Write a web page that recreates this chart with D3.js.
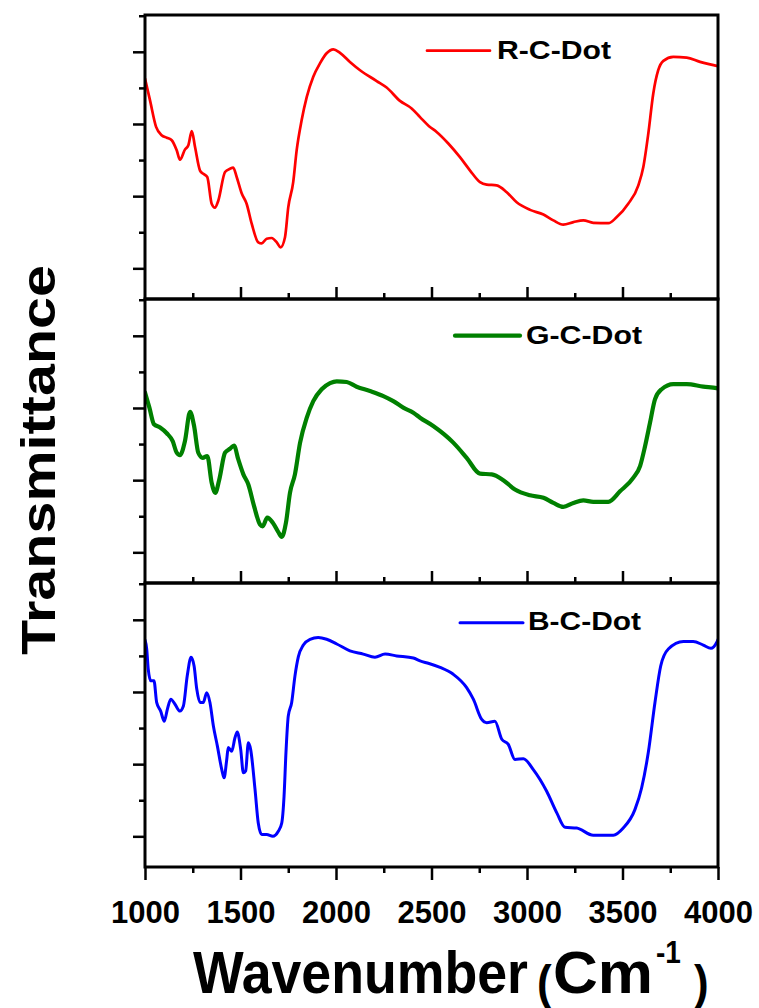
<!DOCTYPE html>
<html>
<head>
<meta charset="utf-8">
<script src="https://cdn.jsdelivr.net/npm/d3@7"></script>
<style>
  body { margin: 0; background: #fff; }
  svg { display: block; }
  text { font-family: "Liberation Sans", Arial, Helvetica, sans-serif; font-weight: bold; fill: #000; }
</style>
</head>
<body>
<svg id="chart" width="759" height="1008"></svg>
<script>
// FTIR spectra of the three carbon-dot samples: [wavenumber (cm^-1), transmittance (a.u.)]
const redSpectrum = [
  [1000,52.6],[1026,46.6],[1058,39.2],[1087,36.9],[1114,36.2],[1140,35.5],[1166,32.7],[1183,30.1],
  [1209,32.9],[1227,34.1],[1245,38.0],[1262,33.6],[1288,27.1],[1305,26.2],[1326,25.3],[1349,17.9],
  [1366,16.8],[1384,18.8],[1419,26.7],[1445,27.6],[1462,27.9],[1480,25.3],[1506,20.8],[1532,17.9],
  [1559,12.3],[1593,7.2],[1611,6.9],[1637,8.2],[1663,8.4],[1690,7.2],[1710,5.8],[1733,8.6],
  [1750,16.9],[1776,23.9],[1794,32.7],[1820,41.0],[1847,47.5],[1881,53.1],[1916,56.8],[1951,59.6],
  [1986,60.7],[2021,59.7],[2073,57.2],[2126,54.9],[2213,51.9],[2265,50.1],[2335,46.4],[2396,44.3],
  [2440,41.9],[2487,39.4],[2527,37.8],[2588,34.6],[2649,30.8],[2702,27.1],[2754,23.9],[2789,23.2],
  [2841,23.0],[2894,21.1],[2946,18.3],[3016,16.2],[3086,14.9],[3138,13.3],[3190,12.1],[3243,12.8],
  [3295,13.3],[3347,12.6],[3426,12.5],[3470,14.2],[3530,17.9],[3583,23.0],[3609,28.1],[3635,37.3],
  [3661,48.4],[3687,54.9],[3714,57.5],[3766,58.6],[3836,58.4],[3906,57.2],[3993,56.1],[4000,56.0]
];

const greenSpectrum = [
  [1000,44.3],[1023,40.1],[1047,35.5],[1079,34.6],[1114,33.0],[1145,30.8],[1166,27.6],[1183,26.9],
  [1209,30.8],[1236,38.9],[1257,35.0],[1279,27.6],[1302,26.2],[1326,26.7],[1349,19.3],[1368,16.5],
  [1389,20.2],[1419,27.6],[1445,28.7],[1466,29.6],[1488,25.8],[1515,21.6],[1541,18.8],[1571,12.8],
  [1602,7.7],[1616,7.2],[1640,9.6],[1669,8.2],[1698,5.6],[1716,4.3],[1738,8.2],[1759,16.5],
  [1785,21.6],[1812,30.4],[1847,37.3],[1881,41.9],[1925,45.2],[1969,46.9],[2004,47.4],[2056,47.2],
  [2108,45.9],[2178,44.7],[2248,43.3],[2300,41.9],[2352,40.1],[2405,38.7],[2440,37.3],[2509,35.0],
  [2614,30.4],[2684,26.2],[2754,21.8],[2815,21.6],[2876,20.0],[2937,17.4],[3016,15.8],[3086,15.1],
  [3138,13.7],[3190,12.6],[3243,13.7],[3295,14.4],[3347,14.0],[3426,14.0],[3487,16.9],[3557,20.7],
  [3592,23.9],[3618,29.4],[3644,35.9],[3670,42.4],[3705,45.2],[3766,46.6],[3836,46.6],[3923,45.9],
  [3993,45.5],[4000,45.4]
];

const blueSpectrum = [
  [1000,54.4],[1009,51.9],[1017,46.3],[1030,43.1],[1047,43.1],[1061,37.1],[1082,34.7],[1101,31.9],
  [1117,35.2],[1135,38.0],[1157,36.6],[1183,34.7],[1201,36.1],[1221,44.4],[1241,49.6],[1257,47.2],
  [1271,40.8],[1288,37.1],[1305,37.1],[1323,39.8],[1340,37.1],[1358,30.6],[1379,25.0],[1402,18.5],
  [1414,16.2],[1428,21.3],[1436,24.6],[1454,23.6],[1471,27.3],[1483,28.9],[1501,24.1],[1515,17.6],
  [1527,18.1],[1541,25.9],[1553,24.1],[1576,13.0],[1593,3.7],[1611,0.5],[1637,0.5],[1669,0.0],
  [1698,1.4],[1716,3.7],[1728,11.1],[1738,23.2],[1750,33.3],[1768,37.1],[1785,44.4],[1803,49.8],
  [1829,53.0],[1864,54.6],[1907,55.1],[1951,54.6],[2004,53.3],[2073,51.4],[2143,50.5],[2204,49.6],
  [2257,50.5],[2318,50.0],[2405,49.4],[2440,48.6],[2487,47.9],[2545,46.8],[2614,44.9],[2684,41.2],
  [2719,38.0],[2763,32.4],[2789,31.5],[2832,31.9],[2868,26.9],[2902,25.5],[2937,21.3],[2981,21.5],
  [3033,18.5],[3103,12.5],[3156,6.5],[3199,2.5],[3260,2.3],[3347,0.3],[3452,0.3],[3504,2.3],
  [3565,7.4],[3600,13.4],[3635,23.2],[3670,37.1],[3700,47.2],[3740,51.9],[3819,54.0],[3870,54.0],
  [3923,53.0],[3963,52.1],[3993,53.7],[4000,54.5]
];

const sampleNames = ["R-C-Dot", "G-C-Dot", "B-C-Dot"];
const sampleColors = ["#ff0000", "#008000", "#0000ff"];
const xMajorTicks = [1000, 1500, 2000, 2500, 3000, 3500, 4000];
const xMinorTicks = [1250, 1750, 2250, 2750, 3250, 3750];
const yMajorTicks = [0, 20, 40, 60];
const yMinorTicks = [10, 30, 50, 70];
const xDomain = [1000, 4000];
const yDomain = [-8.5, 70.2];

const spectra = [redSpectrum, greenSpectrum, blueSpectrum];
const lineWidths = [2.7, 4.2, 3];

const svg = d3.select("#chart");
const left = 145, right = 718;
const panelTop = [15, 299, 583];
const panelH = 284;

const x = d3.scaleLinear().domain(xDomain).range([left, right]);

// legend placement inside each panel
const legendLine = [[427, 490, 50.7], [455, 520, 335.7], [460, 523, 622.7]];
const legendText = [[497, 59, 114], [526, 344, 116], [528, 630, 113]];

spectra.forEach((data, i) => {
  const top = panelTop[i], bottom = top + panelH;
  const y = d3.scaleLinear().domain(yDomain).range([bottom, top]);
  const g = svg.append("g");

  const clipId = "clip" + i;
  svg.append("clipPath").attr("id", clipId)
    .append("rect").attr("x", left).attr("y", top).attr("width", right - left).attr("height", panelH);

  const line = d3.line()
    .x(d => x(d[0]))
    .y(d => y(d[1]))
    .curve(d3.curveMonotoneX);

  g.append("path")
    .datum(data)
    .attr("clip-path", `url(#${clipId})`)
    .attr("fill", "none")
    .attr("stroke", sampleColors[i])
    .attr("stroke-width", lineWidths[i])
    .attr("stroke-linejoin", "round")
    .attr("stroke-linecap", "round")
    .attr("d", line);

  // left axis ticks (outward)
  const yMaj = d3.axisLeft(y).tickValues(yMajorTicks).tickSize(12).tickFormat("");
  const yMin = d3.axisLeft(y).tickValues(yMinorTicks).tickSize(6).tickFormat("");
  [yMaj, yMin].forEach(ax => {
    const a = g.append("g").attr("transform", `translate(${left},0)`).call(ax);
    a.select(".domain").remove();
    a.selectAll("line").attr("stroke", "#000").attr("stroke-width", 2.5);
  });

  // bottom ticks of each panel
  if (i < 2) {
    const xMaj = d3.axisTop(x).tickValues(xMajorTicks.slice(1, -1)).tickSize(12).tickFormat("");
    const xMin = d3.axisTop(x).tickValues(xMinorTicks).tickSize(6).tickFormat("");
    [xMaj, xMin].forEach(ax => {
      const a = g.append("g").attr("transform", `translate(0,${bottom})`).call(ax);
      a.select(".domain").remove();
      a.selectAll("line").attr("stroke", "#000").attr("stroke-width", 2.5);
    });
  } else {
    const xMaj = d3.axisBottom(x).tickValues(xMajorTicks).tickSize(13).tickPadding(21).tickFormat(d3.format("d"));
    const xMin = d3.axisBottom(x).tickValues(xMinorTicks).tickSize(6).tickFormat("");
    [xMaj, xMin].forEach(ax => {
      const a = g.append("g").attr("transform", `translate(0,${bottom})`).call(ax);
      a.select(".domain").remove();
      a.selectAll("line").attr("stroke", "#000").attr("stroke-width", 2.5);
      a.selectAll("text")
        .attr("font-family", null)
        .attr("font-size", null)
        .style("font-size", "31px")
        .style("font-family", '"Liberation Sans", Arial, sans-serif')
        .style("font-weight", "bold")
        .attr("fill", "#000");
    });
  }

  // panel frame
  g.append("rect")
    .attr("x", left).attr("y", top)
    .attr("width", right - left).attr("height", panelH)
    .attr("fill", "none").attr("stroke", "#000").attr("stroke-width", 3);

  // legend
  const [lx1, lx2, ly] = legendLine[i];
  g.append("line")
    .attr("x1", lx1).attr("x2", lx2).attr("y1", ly).attr("y2", ly)
    .attr("stroke", sampleColors[i]).attr("stroke-width", lineWidths[i])
    .attr("stroke-linecap", "round");
  const [tx, ty, tl] = legendText[i];
  g.append("text")
    .attr("x", tx).attr("y", ty)
    .attr("font-size", 26)
    .attr("textLength", tl)
    .attr("lengthAdjust", "spacingAndGlyphs")
    .text(sampleNames[i]);
});

// y axis title
svg.append("text")
  .attr("transform", "translate(55,460) rotate(-90)")
  .attr("text-anchor", "middle")
  .attr("font-size", 49)
  .attr("textLength", 390)
  .attr("lengthAdjust", "spacingAndGlyphs")
  .text("Transmittance");

// x axis title: Wavenumber (Cm^-1)
const xt = svg.append("g").attr("transform", "translate(0,993) scale(1,1.1)");
xt.append("text").attr("x", 193).attr("y", 0).attr("font-size", 53)
  .attr("textLength", 335).attr("lengthAdjust", "spacingAndGlyphs").text("Wavenumber");
xt.append("text").attr("x", 537).attr("y", 5).attr("font-size", 44).text("(");
xt.append("text").attr("x", 553).attr("y", 0).attr("font-size", 54)
  .attr("textLength", 100).attr("lengthAdjust", "spacingAndGlyphs").text("Cm");
xt.append("text").attr("x", 656).attr("y", -27).attr("font-size", 28).text("-1");
xt.append("text").attr("x", 694).attr("y", 5).attr("font-size", 44).text(")");
</script>
</body>
</html>
